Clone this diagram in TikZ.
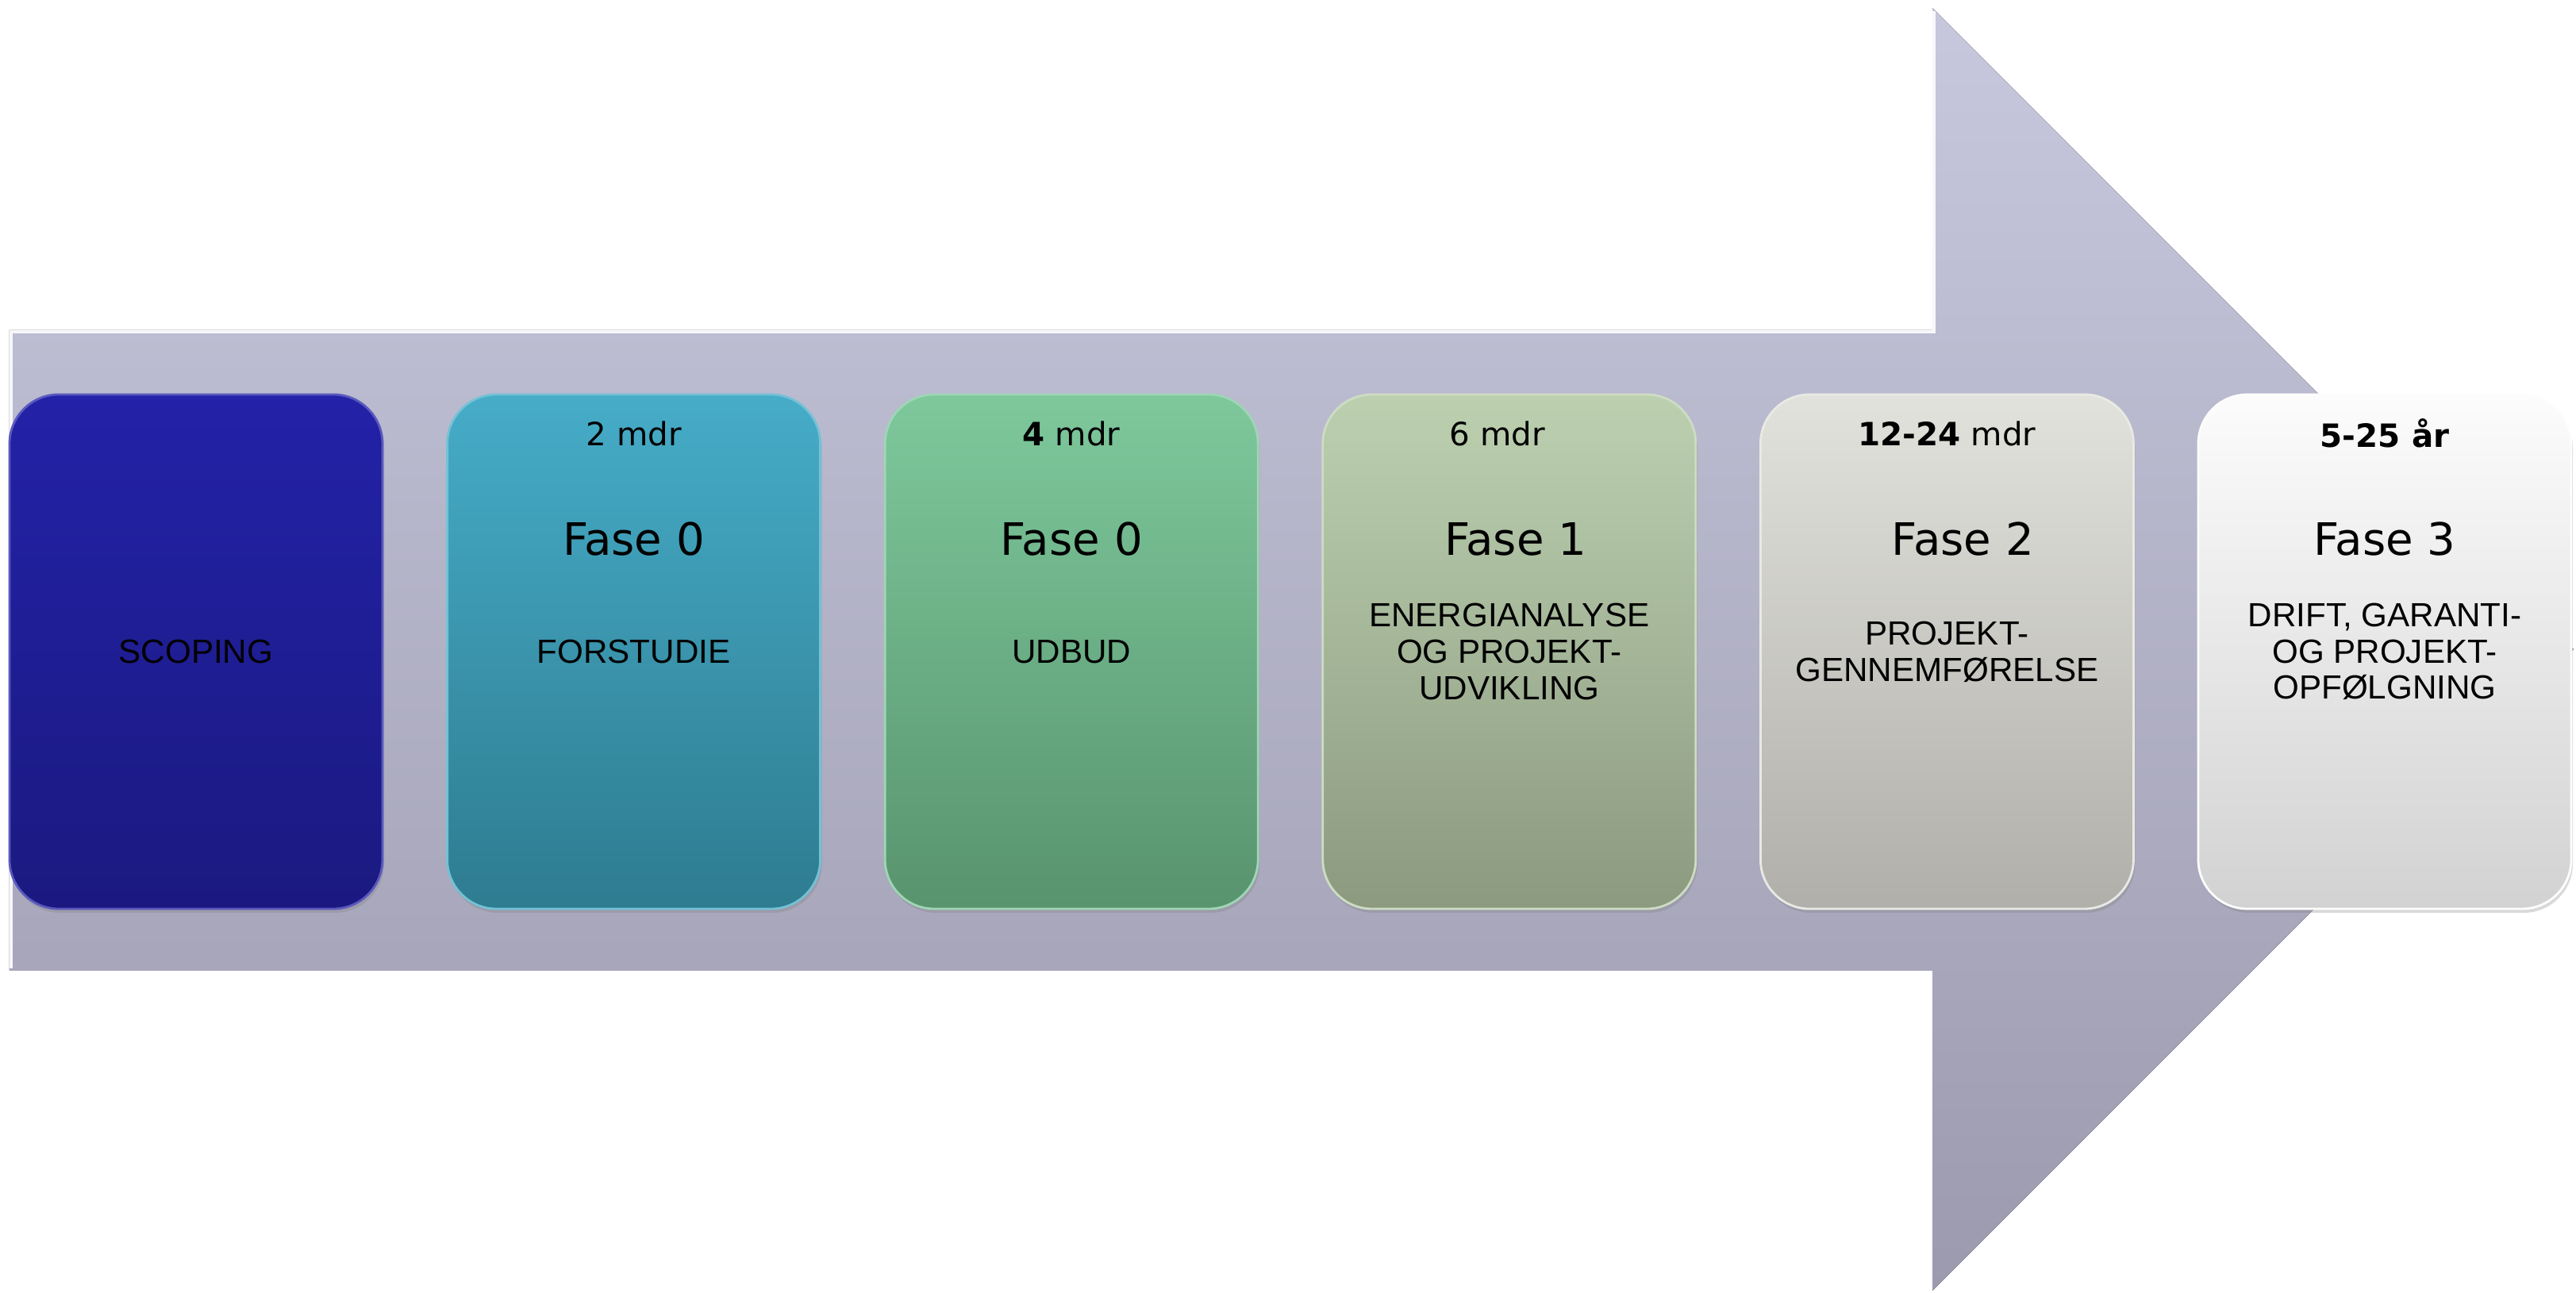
\documentclass[tikz,border=0pt]{standalone}
\usepackage{fontspec}
\setmainfont{Liberation Sans}
\newfontfamily\verd{DejaVu Sans}
\usetikzlibrary{positioning,shadows}
\definecolor{arrowtop}{RGB}{199,200,222}
\definecolor{arrowbot}{RGB}{156,154,174}
\definecolor{scopetop}{RGB}{35,34,168}
\definecolor{scopebot}{RGB}{27,25,128}
\definecolor{forstop}{RGB}{70,172,200}
\definecolor{forsbot}{RGB}{46,124,144}
\definecolor{udbtop}{RGB}{126,200,156}
\definecolor{udbbot}{RGB}{88,148,110}
\definecolor{enetop}{RGB}{188,208,176}
\definecolor{enebot}{RGB}{140,154,128}
\definecolor{gentop}{RGB}{226,226,220}
\definecolor{genbot}{RGB}{176,175,170}
\definecolor{drifttop}{RGB}{252,252,252}
\definecolor{driftbot}{RGB}{210,210,210}
\begin{document}
\begin{tikzpicture}[
	phase/.style 2 args={rounded corners=0.62cm, minimum width=4.70cm, minimum height=6.48cm,
		inner sep=0pt, outer sep=0pt, align=center, font=\fontsize{12}{13}\selectfont,
		top color=#1, bottom color=#2, draw=#1!75!white, line width=0.8pt,
		drop shadow={opacity=0.3, shadow xshift=0.02cm, shadow yshift=-0.05cm}},
	dur/.style={font=\verd\fontsize{11.5}{13}\selectfont, inner sep=0pt},
	fase/.style={font=\verd\fontsize{16}{18}\selectfont, inner sep=0pt}]
	\useasboundingbox (0,0) rectangle (32.46,-16.29);
	\fill [top color=arrowtop, bottom color=arrowbot] (0.12,-4.16) -- (24.35,-4.16) -- (24.35,-0.10) -- (32.43,-8.18) -- (24.35,-16.26) -- (24.35,-12.23) -- (0.12,-12.23) -- cycle;
	\draw [white!85!arrowtop, line width=1.2pt] (0.14,-12.2) -- (0.14,-4.18) -- (24.37,-4.18) -- (24.37,-0.14);
	\node [phase={scopetop}{scopebot}] (scoping) at (2.47,-8.21) {SCOPING};
	\node [phase={forstop}{forsbot}, right=0.816cm of scoping] (forstudie) {FORSTUDIE};
	\node [phase={udbtop}{udbbot}, right=0.816cm of forstudie] (udbud) {UDBUD};
	\node [phase={enetop}{enebot}, right=0.816cm of udbud] (energi) {ENERGIANALYSE\\OG PROJEKT-\\UDVIKLING};
	\node [phase={gentop}{genbot}, right=0.816cm of energi] (gennem) {PROJEKT-\\GENNEMFØRELSE};
	\node [phase={drifttop}{driftbot}, right=0.816cm of gennem] (drift) {DRIFT, GARANTI-\\OG PROJEKT-\\OPFØLGNING};
	\node [dur] (forstudie-dur) at ([yshift=-0.49cm]forstudie.north) {2 mdr};
	\node [fase] (forstudie-fase) at ([yshift=-1.82cm]forstudie.north) {Fase 0};
	\node [dur] (udbud-dur) at ([yshift=-0.49cm]udbud.north) {\textbf{4} mdr};
	\node [fase] (udbud-fase) at ([yshift=-1.82cm]udbud.north) {Fase 0};
	\node [dur] (energi-dur) at ([xshift=-0.15cm,yshift=-0.49cm]energi.north) {6 mdr};
	\node [fase] (energi-fase) at ([xshift=0.08cm,yshift=-1.82cm]energi.north) {Fase 1};
	\node [dur] (gennem-dur) at ([yshift=-0.49cm]gennem.north) {\textbf{12-24} mdr};
	\node [fase] (gennem-fase) at ([xshift=0.2cm,yshift=-1.82cm]gennem.north) {Fase 2};
	\node [dur] (drift-dur) at ([yshift=-0.49cm]drift.north) {\textbf{5-25 år}};
	\node [fase] (drift-fase) at ([yshift=-1.82cm]drift.north) {Fase 3};
\end{tikzpicture}
\end{document}
